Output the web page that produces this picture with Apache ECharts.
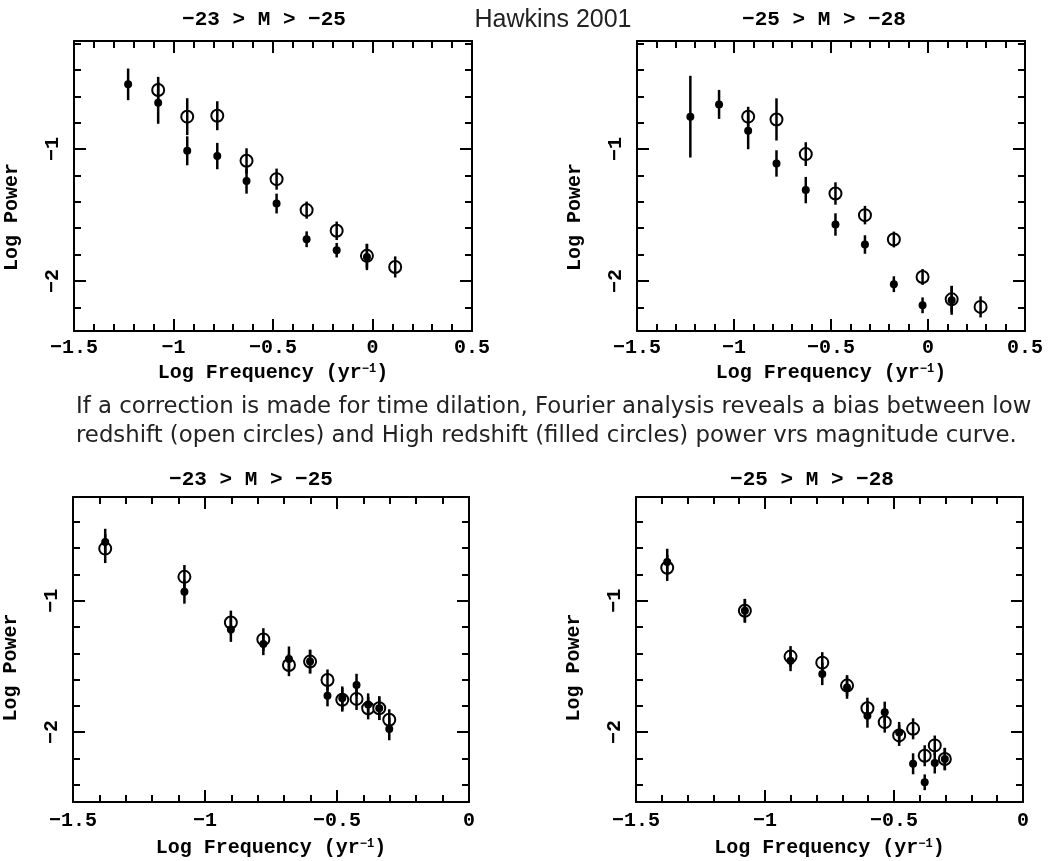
<!DOCTYPE html>
<html>
<head>
<meta charset="utf-8">
<script src="https://cdn.jsdelivr.net/npm/echarts@6/dist/echarts.min.js"></script>
<style>
  html, body { margin: 0; padding: 0; background: #fff; }
  #chart { width: 1055px; height: 861px; }
</style>
</head>
<body>
<div id="chart"></div>
<script>
// tick labels
const xTicksTop = [-1.5, -1, -0.5, 0, 0.5];
const xTicksBottom = [-1.5, -1, -0.5, 0];
const yTicks = [-1, -2];
const panelTitles = ['−23 > M > −25', '−25 > M > −28', '−23 > M > −25', '−25 > M > −28'];

// top left: -23 > M > -25
const p1Freq = [-1.228, -1.077, -0.931, -0.780, -0.633, -0.482, -0.331, -0.180, -0.028, 0.114];
const p1Open = [null, -0.552, -0.754, -0.747, -1.089, -1.228, -1.463, -1.620, -1.810, -1.894];
const p1OpenErr = [null, 0.10, 0.14, 0.11, 0.095, 0.08, 0.065, 0.07, 0.09, 0.08];
const p1Filled = [-0.509, -0.648, -1.013, -1.053, -1.243, -1.413, -1.684, -1.767, -1.818, null];
const p1FilledErr = [0.12, 0.16, 0.11, 0.10, 0.095, 0.075, 0.06, 0.055, 0.10, null];

// top right: -25 > M > -28
const p2Freq = [-1.225, -1.077, -0.927, -0.781, -0.630, -0.477, -0.325, -0.176, -0.028, 0.122, 0.271];
const p2Open = [null, null, -0.754, -0.775, -1.038, -1.337, -1.501, -1.686, -1.970, -2.140, -2.197];
const p2OpenErr = [null, null, 0.075, 0.16, 0.09, 0.085, 0.07, 0.06, 0.06, 0.10, 0.08];
const p2Filled = [-0.754, -0.661, -0.861, -1.109, -1.311, -1.572, -1.724, -2.025, -2.185, -2.147, null];
const p2FilledErr = [0.31, 0.11, 0.14, 0.10, 0.10, 0.085, 0.07, 0.06, 0.06, 0.11, null];

// bottom left: -23 > M > -25 (time dilation corrected)
const p3Freq = [-1.378, -1.078, -0.902, -0.779, -0.682, -0.602, -0.536, -0.480, -0.426, -0.382, -0.340, -0.302];
const p3Open = [-0.603, -0.818, -1.165, -1.294, -1.489, -1.463, -1.603, -1.754, -1.747, -1.818, -1.818, -1.906];
const p3OpenErr = [0.11, 0.09, 0.09, 0.085, 0.085, 0.09, 0.08, 0.09, 0.085, 0.085, 0.09, 0.08];
const p3Filled = [-0.552, -0.932, -1.218, -1.329, -1.443, -1.463, -1.724, -1.742, -1.641, -1.790, -1.818, -1.977];
const p3FilledErr = [0.10, 0.09, 0.095, 0.085, 0.095, 0.09, 0.08, 0.09, 0.085, 0.085, 0.09, 0.085];

// bottom right: -25 > M > -28 (time dilation corrected)
const p4Freq = [-1.379, -1.078, -0.901, -0.778, -0.682, -0.603, -0.536, -0.480, -0.426, -0.381, -0.342, -0.303];
const p4Open = [-0.749, -1.076, -1.425, -1.471, -1.646, -1.818, -1.924, -2.025, -1.975, -2.180, -2.101, -2.205];
const p4OpenErr = [0.10, 0.09, 0.08, 0.08, 0.08, 0.08, 0.08, 0.08, 0.08, 0.08, 0.075, 0.085];
const p4Filled = [-0.704, -1.076, -1.456, -1.557, -1.661, -1.876, -1.848, -2.003, -2.241, -2.382, -2.235, -2.205];
const p4FilledErr = [0.10, 0.09, 0.08, 0.085, 0.085, 0.09, 0.08, 0.08, 0.08, 0.06, 0.08, 0.085];

const panels = [
  { freq: p1Freq, open: p1Open, openErr: p1OpenErr, filled: p1Filled, filledErr: p1FilledErr },
  { freq: p2Freq, open: p2Open, openErr: p2OpenErr, filled: p2Filled, filledErr: p2FilledErr },
  { freq: p3Freq, open: p3Open, openErr: p3OpenErr, filled: p3Filled, filledErr: p3FilledErr },
  { freq: p4Freq, open: p4Open, openErr: p4OpenErr, filled: p4Filled, filledErr: p4FilledErr },
];

const MONO = '"Liberation Mono", monospace';
const SANS = '"Liberation Sans", Arial, sans-serif';

// pixel layout of each box
const boxes = [
  { left: 74, top: 41, width: 398, height: 290, xMax: 0.5, yMin: -2.38, yMax: -0.18, xTicks: xTicksTop, title: [264, 20], labelMargin: 7, nameGap: 32, nameShift: 62 },
  { left: 637, top: 41, width: 388, height: 290, xMax: 0.5, yMin: -2.38, yMax: -0.18, xTicks: xTicksTop, title: [824, 20], labelMargin: 7, nameGap: 32, nameShift: 62 },
  { left: 73, top: 497, width: 396, height: 305, xMax: 0, yMin: -2.532, yMax: -0.21, xTicks: xTicksBottom, title: [251, 480], labelMargin: 9, nameGap: 36, nameShift: 36 },
  { left: 636, top: 497, width: 387, height: 305, xMax: 0, yMin: -2.532, yMax: -0.21, xTicks: xTicksBottom, title: [812, 480], labelMargin: 9, nameGap: 36, nameShift: 36 },
];

function minorTicks(min, max, step, majors) {
  const out = [];
  for (let k = Math.ceil(min / step - 1e-9); k * step <= max + 1e-9; k++) {
    const v = Math.round(k * step * 100) / 100;
    if (!majors.some(m => Math.abs(m - v) < 1e-6)) out.push(v);
  }
  return out;
}

const fmt = v => String(Math.round(v * 10) / 10).replace('-', '−');
const black = { color: '#000', width: 2 };

function axis(dim, gi, b, pos, ticks, len, main, labeled) {
  const isX = dim === 'x';
  const a = {
    type: 'value',
    gridIndex: gi,
    position: pos,
    min: isX ? -1.5 : b.yMin,
    max: isX ? b.xMax : b.yMax,
    axisLine: { show: main, onZero: false, lineStyle: black },
    axisTick: { show: true, inside: true, length: len, customValues: ticks, lineStyle: black },
    axisLabel: { show: false },
    splitLine: { show: false },
  };
  if (labeled) {
    a.axisLabel = {
      show: true,
      customValues: ticks,
      formatter: fmt,
      margin: isX ? b.labelMargin : 11,
      rotate: isX ? 0 : 90,
      color: '#000',
      fontFamily: MONO,
      fontWeight: 'bold',
      fontSize: 20,
    };
    if (isX) {
      a.name = 'Log Frequency (yr{sup|−1})';
      a.nameLocation = 'middle';
      a.nameGap = b.nameGap;
      a.nameTextStyle = {
        color: '#000', fontFamily: MONO, fontWeight: 'bold', fontSize: 20,
        rich: { sup: { color: '#000', fontFamily: MONO, fontWeight: 'bold', fontSize: 12, verticalAlign: 'top' } },
      };
    } else {
      a.name = 'Log Power';
      a.nameLocation = 'middle';
      a.nameRotate = 90;
      a.nameGap = 52;
      a.nameTextStyle = {
        color: '#000', fontFamily: MONO, fontWeight: 'bold', fontSize: 20,
        padding: [0, b.nameShift, 0, 0],
      };
    }
  }
  return a;
}

const grid = [], xAxis = [], yAxis = [], series = [], graphic = [];

boxes.forEach((b, gi) => {
  grid.push({ left: b.left, top: b.top, width: b.width, height: b.height, containLabel: false });

  const xMinor = minorTicks(-1.5, b.xMax, 0.1, b.xTicks);
  const yMinor = minorTicks(b.yMin, b.yMax, 0.2, yTicks);
  xAxis.push(
    axis('x', gi, b, 'bottom', b.xTicks, 12, true, true),
    axis('x', gi, b, 'top', b.xTicks, 12, true, false),
    axis('x', gi, b, 'bottom', xMinor, 7, false, false),
    axis('x', gi, b, 'top', xMinor, 7, false, false)
  );
  yAxis.push(
    axis('y', gi, b, 'left', yTicks, 12, true, true),
    axis('y', gi, b, 'right', yTicks, 12, true, false),
    axis('y', gi, b, 'left', yMinor, 7, false, false),
    axis('y', gi, b, 'right', yMinor, 7, false, false)
  );

  const p = panels[gi];
  const openPts = [], filledPts = [], bars = [];
  p.freq.forEach((f, i) => {
    if (p.open[i] != null) { openPts.push([f, p.open[i]]); bars.push([f, p.open[i], p.openErr[i]]); }
    if (p.filled[i] != null) { filledPts.push([f, p.filled[i]]); bars.push([f, p.filled[i], p.filledErr[i]]); }
  });

  const ax = { xAxisIndex: gi * 4, yAxisIndex: gi * 4 };
  series.push(
    Object.assign({
      name: 'low redshift', type: 'scatter', data: openPts, symbol: 'circle', symbolSize: 12, z: 2,
      itemStyle: { color: '#fff', borderColor: '#000', borderWidth: 2, opacity: 1 },
    }, ax),
    Object.assign({
      name: 'error', type: 'custom', data: bars, z: 3, encode: { x: 0, y: 1 },
      renderItem: (params, api) => {
        const top = api.coord([api.value(0), api.value(1) + api.value(2)]);
        const bot = api.coord([api.value(0), api.value(1) - api.value(2)]);
        return { type: 'line', shape: { x1: top[0], y1: top[1], x2: bot[0], y2: bot[1] }, style: { stroke: '#000', lineWidth: 2.5 } };
      },
    }, ax),
    Object.assign({
      name: 'high redshift', type: 'scatter', data: filledPts, symbol: 'circle', symbolSize: 8, z: 4,
      itemStyle: { color: '#000', opacity: 1 },
    }, ax)
  );

  graphic.push({
    type: 'text', x: b.title[0], y: b.title[1],
    style: { text: panelTitles[gi], font: 'bold 21px ' + MONO, fill: '#000', align: 'center', verticalAlign: 'middle' },
  });
});

graphic.push(
  { type: 'text', x: 553, y: 20, style: { text: 'Hawkins 2001', font: '25px ' + SANS, fill: '#222', align: 'center', verticalAlign: 'middle' } },
  { type: 'text', x: 76, y: 407, style: { text: 'If a correction is made for time dilation, Fourier analysis reveals a bias between low', font: '22.8px "DejaVu Sans", sans-serif', fill: '#222', align: 'left', verticalAlign: 'middle' } },
  { type: 'text', x: 76, y: 436, style: { text: 'redshift (open circles) and High redshift (filled circles) power vrs magnitude curve.', font: '22.8px "DejaVu Sans", sans-serif', fill: '#222', align: 'left', verticalAlign: 'middle' } }
);

const chart = echarts.init(document.getElementById('chart'));
chart.setOption({
  animation: false,
  backgroundColor: '#fff',
  grid, xAxis, yAxis, series, graphic,
});
</script>
</body>
</html>
